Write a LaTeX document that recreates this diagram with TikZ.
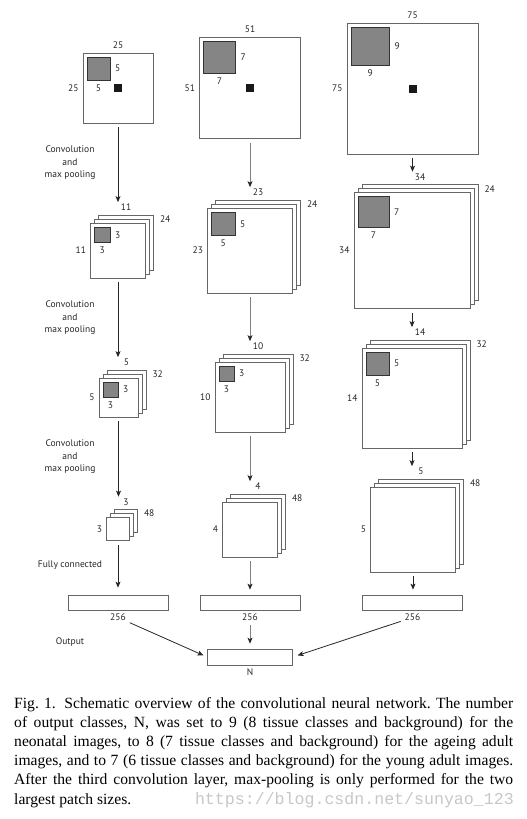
\documentclass[tikz,border=0pt]{standalone}
\usepackage{fontspec}
\setmainfont{Liberation Serif}
\setsansfont{PT Sans}
\setmonofont{Liberation Mono}
\usepackage{tikz}
\usetikzlibrary{positioning,arrows.meta}
\newcommand{\labfont}{\sffamily\fontsize{9.5}{12.5}\selectfont}
\tikzset{
  mapbox/.style={rectangle, draw=black!60, fill=white, line width=0.7pt, inner sep=0pt},
  patch/.style={rectangle, draw=black!80, fill=black!48, line width=0.7pt, inner sep=0pt},
  dotbox/.style={rectangle, fill=black!90, minimum size=8, inner sep=0pt},
  fcbox/.style={rectangle, draw=black!60, fill=white, line width=0.7pt, minimum width=100, minimum height=15, inner sep=0pt},
  outbox/.style={fcbox, minimum width=85, minimum height=16},
  dimlab/.style={font=\labfont, text=black!85, inner sep=1pt},
  convlab/.style={font=\labfont, text=black!85, align=center, inner sep=0pt},
  conn/.style={draw=black!85, line width=0.8pt, -{Stealth[length=6pt,width=5pt,inset=1.5pt]}, shorten <=4pt, shorten >=12.5pt},
  gconn/.style={conn, draw=black!50, -{Stealth[length=6pt,width=5pt,inset=1.5pt,color=black!85]}},
  capt/.style={text width=499pt, align=justify, inner sep=0pt, font=\fontsize{15.6}{19.2}\selectfont},
  wmark/.style={text=black!22, inner sep=0pt, font=\ttfamily\fontsize{16.6}{19.2}\selectfont}
}
% stack of three feature maps: name, x, y, size, side, depth
\newcommand{\mapstack}[6]{%
  \foreach \k in {2,1}
    \node[mapbox, minimum size=#4] (#1-\k) at (#2+4*\k,#3-4*\k) {};
  \node[mapbox, minimum size=#4] (#1) at (#2,#3) {};
  \node[dimlab, above=2.5pt of #1-2] (#1-top) {#5};
  \node[dimlab, left=3pt of #1] (#1-left) {#5};
  \node[dimlab, anchor=west] (#1-depth) at ([xshift=5pt,yshift=-4.5pt]#1-2.north east) {#6};
}
% kernel square in the corner of a map: map, name, size, k
\newcommand{\kernelsq}[4]{%
  \node[patch, minimum size=#3, anchor=north west] (#2) at ([xshift=4pt,yshift=-4pt]#1.north west) {};
  \node[dimlab, right=3.5pt of #2] (#2-r) {#4};
  \node[dimlab, below=3pt of #2] (#2-b) {#4};
}
\begin{document}
\begin{tikzpicture}[x=1pt,y=-1pt]
\useasboundingbox (0,0) rectangle (527,819);

% input patches
\node[mapbox, minimum size=70] (in25) at (118,88) {};
\node[dotbox] (d25) at (in25) {};
\node[dimlab, above=3pt of in25] (in25-top) {25};
\node[dimlab, left=3pt of in25] (in25-left) {25};
\kernelsq{in25}{k25}{23}{5}

\node[mapbox, minimum size=101] (in51) at (250,88) {};
\node[dotbox] (d51) at (in51) {};
\node[dimlab, above=3pt of in51] (in51-top) {51};
\node[dimlab, left=3pt of in51] (in51-left) {51};
\kernelsq{in51}{k51}{32}{7}

\node[mapbox, minimum size=131] (in75) at (412.5,88.5) {};
\node[dotbox] (d75) at (in75) {};
\node[dimlab, above=3pt of in75] (in75-top) {75};
\node[dimlab, left=3pt of in75] (in75-left) {75};
\kernelsq{in75}{k75}{38.5}{9}

% feature maps, column by column
\mapstack{s11}{118}{250.5}{55}{11}{24}
\kernelsq{s11}{k11}{15.5}{3}
\mapstack{s5}{118.5}{397.5}{39}{5}{32}
\kernelsq{s5}{k5}{15}{3}
\mapstack{s3}{118}{529}{23}{3}{48}

\mapstack{s23}{250}{250.5}{85}{23}{24}
\kernelsq{s23}{k23}{23.5}{5}
\mapstack{s10}{250}{397}{70}{10}{32}
\kernelsq{s10}{k10}{15}{3}
\mapstack{s4}{250}{529.5}{55}{4}{48}

\mapstack{s34}{412}{250.5}{116}{34}{24}
\kernelsq{s34}{k34}{31}{7}
\mapstack{s14}{412}{398}{100}{14}{32}
\kernelsq{s14}{k14}{23}{5}
\mapstack{s5r}{413}{529.5}{85}{5}{48}

% fully connected and output
\node[fcbox] (fc1) at (118,602.5) {};
\node[fcbox] (fc2) at (250,602.5) {};
\node[fcbox] (fc3) at (412.5,602.5) {};
\foreach \f in {1,2,3}
  \node[dimlab, below=2.5pt of fc\f] (fc\f-lab) {256};
\node[outbox] (out) at (250,657) {};
\node[dimlab, below=2pt of out] (out-lab) {N};

% step texts
\node[convlab] (cv1) at (70,163) {Convolution\\and\\max pooling};
\node[convlab] (cv2) at (70,318) {Convolution\\and\\max pooling};
\node[convlab] (cv3) at (70,457) {Convolution\\and\\max pooling};
\node[convlab] (fcl) at (70,565) {Fully connected};
\node[convlab] (outl) at (70,642) {Output};

% arrows
\draw[conn] (in25) -- (in25 |- s11-2.north);
\draw[conn] (s11) -- (s11 |- s5-2.north);
\draw[conn] (s5) -- (s5 |- s3-2.north);
\draw[conn, shorten >=7pt] (s3) -- (s3 |- fc1.north);
\draw[gconn] (in51) -- (in51 |- s23-2.north);
\draw[gconn] (s23) -- (s23 |- s10-2.north);
\draw[gconn] (s10) -- (s10 |- s4-2.north);
\draw[gconn, shorten >=5pt] (s4) -- (s4 |- fc2.north);
\draw[conn] (in75) -- (in75 |- s34-2.north);
\draw[conn] (s34) -- (s34 |- s14-2.north);
\draw[conn] (s14) -- (s14 |- s5r-2.north);
\draw[conn, shorten >=5pt] (s5r) -- (s5r |- fc3.north);
\draw[conn, shorten <=3pt, shorten >=4pt] (fc1-lab) -- (out.west);
\draw[gconn, shorten <=3pt, shorten >=5pt] (fc2-lab) -- (out);
\draw[conn, shorten <=3pt, shorten >=5pt] (fc3-lab) -- (out.east);

% caption
\node[capt, anchor=north west] (cap) at (14,697) {\frenchspacing
Fig.~1.\hskip0.55em Schematic overview of the convolutional neural network. The number\linebreak
of output classes, N, was set to 9 (8 tissue classes and background) for the\linebreak
neonatal images, to 8 (7 tissue classes and background) for the ageing adult\linebreak
images, and to 7 (6 tissue classes and background) for the young adult images.\linebreak
After the third convolution layer, max-pooling is only performed for the two\linebreak
largest patch sizes.};
\node[wmark, anchor=base east] (wm) at (514,804) {https://blog.csdn.net/sunyao\_123};
\end{tikzpicture}
\end{document}
